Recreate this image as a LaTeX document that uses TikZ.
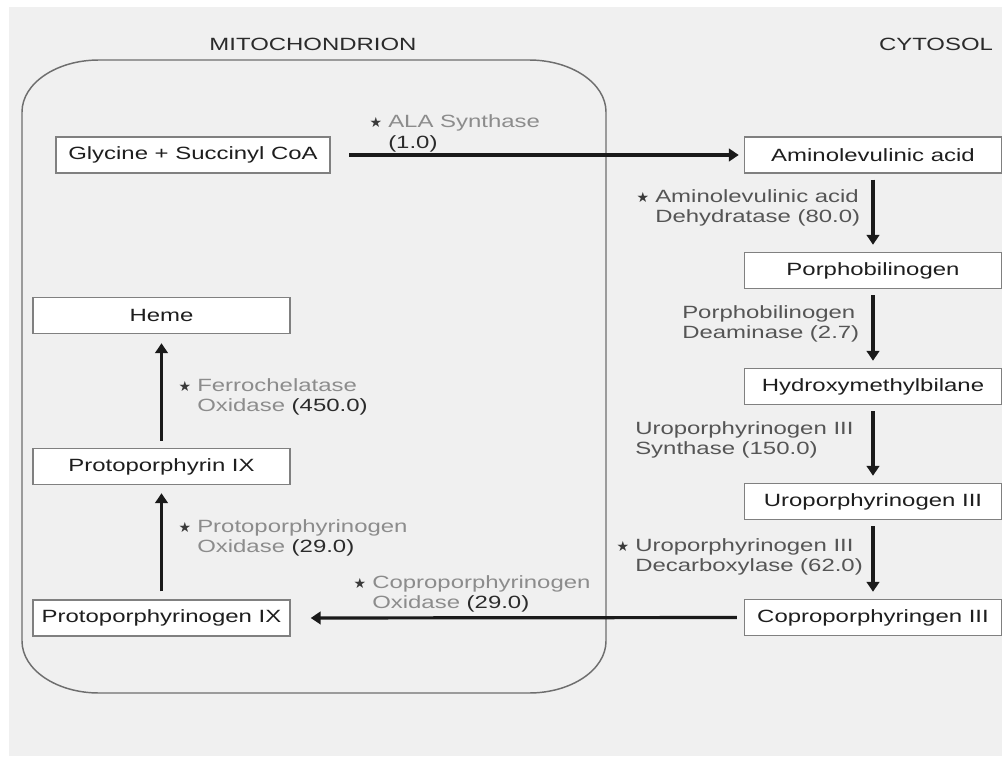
\documentclass[tikz,border=0pt]{standalone}
\usepackage{fontspec}
\setmainfont{Liberation Sans}[FakeStretch=1.35]
\newfontfamily\starfont{DejaVu Sans}
\usetikzlibrary{arrows.meta}
\definecolor{bgcol}{HTML}{F0F0F0}
\definecolor{boxline}{HTML}{808080}
\definecolor{mitoline}{HTML}{6E6E6E}
\definecolor{nodetext}{HTML}{1E1E1E}
\definecolor{lightlab}{HTML}{8C8C8C}
\definecolor{darklab}{HTML}{555555}
\definecolor{numcol}{HTML}{2B2B2B}
\definecolor{starcol}{HTML}{3A3A3A}
\definecolor{arrowcol}{HTML}{1A1A1A}
\newcommand\enzstar{\llap{{\starfont\fontsize{10.5}{10.5}\selectfont\color{starcol}★}\hspace{4.5pt}}}
\begin{document}
\begin{tikzpicture}[x=0.75pt,y=-0.75pt,font=\fontsize{13.3}{15}\selectfont,
  pbox/.style={draw=boxline,line width=1.1pt,fill=white,minimum width=192.75pt,minimum height=27pt,inner sep=0pt,text=nodetext},
  lab/.style={inner sep=0pt,align=left},
  flow/.style={line width=2.4pt,draw=arrowcol,-{Triangle[width=9.5pt,length=7.5pt]}},
  title/.style={inner sep=0pt,text=numcol}]
% canvas
\useasboundingbox (0,0) rectangle (1002,756);
\fill[white] (0,0) rectangle (1002,756);
\fill[bgcol] (9,7) rectangle (1002,756);
% mitochondrion outline
\draw[mitoline,line width=1.1pt] (22,112) .. controls (22,83.3) and (56.5,60) .. (99,60)
  -- (529,60) .. controls (571.5,60) and (606,83.3) .. (606,112)
  -- (606,641) .. controls (606,669.7) and (571.5,693) .. (529,693)
  -- (99,693) .. controls (56.5,693) and (22,669.7) .. (22,641) -- cycle;
% titles
\node[title] (tmito) at (313,44) {MITOCHONDRION};
\node[title] (tcyto) at (936,44) {CYTOSOL};
% boxes
\node[pbox,minimum width=205.5pt] (gly) at (193,155) {Glycine + Succinyl CoA};
\node[pbox] (ala) at (873,155) {Aminolevulinic acid};
\node[pbox] (pbg) at (873,270.5) {Porphobilinogen};
\node[pbox] (hmb) at (873,386.5) {Hydroxymethylbilane};
\node[pbox] (uro) at (873,501.5) {Uroporphyrinogen III};
\node[pbox] (copro) at (873,617.5) {Coproporphyringen III};
\node[pbox] (heme) at (161.5,315.5) {Heme};
\node[pbox] (ppix) at (161.5,466.5) {Protoporphyrin IX};
\node[pbox] (ppgen) at (161.5,618) {Protoporphyrinogen IX};
% arrows
\draw[flow,shorten <=14pt,shorten >=3.75pt] (gly.east) -- (ala.west);
\draw[flow,shorten <=4.5pt,shorten >=5.25pt] (ala.south) -- (pbg.north);
\draw[flow,shorten <=4.5pt,shorten >=5.25pt] (pbg.south) -- (hmb.north);
\draw[flow,shorten <=4.5pt,shorten >=5.25pt] (hmb.south) -- (uro.north);
\draw[flow,shorten <=4.5pt,shorten >=5.25pt] (uro.south) -- (copro.north);
\draw[flow,shorten <=5.25pt,shorten >=15pt] (copro.west) -- (ppgen.east);
\draw[flow,shorten <=6pt,shorten >=6pt] (ppgen.north) -- (ppix.south);
\draw[flow,shorten <=5.25pt,shorten >=6.75pt] (ppix.north) -- (heme.south);
% enzyme labels (anchored at the baseline of the last line)
\node[lab,anchor=base west] (lala) at (388,148) {\enzstar\color{lightlab}ALA Synthase\\\color{numcol}(1.0)};
\node[lab,anchor=base west] (lalad) at (655,222) {\enzstar\color{darklab}Aminolevulinic acid\\\color{darklab}Dehydratase (80.0)};
\node[lab,anchor=base west] (lpbgd) at (682,338) {\color{darklab}Porphobilinogen\\\color{darklab}Deaminase (2.7)};
\node[lab,anchor=base west] (luros) at (635,454) {\color{darklab}Uroporphyrinogen III\\\color{darklab}Synthase (150.0)};
\node[lab,anchor=base west] (lurod) at (635,571) {\enzstar\color{darklab}Uroporphyrinogen III\\\color{darklab}Decarboxylase (62.0)};
\node[lab,anchor=base west] (lcpo) at (372,608) {\enzstar\color{lightlab}Coproporphyrinogen\\\color{lightlab}Oxidase \color{numcol}(29.0)};
\node[lab,anchor=base west] (lppo) at (197,552) {\enzstar\color{lightlab}Protoporphyrinogen\\\color{lightlab}Oxidase \color{numcol}(29.0)};
\node[lab,anchor=base west] (lfc) at (197,411) {\enzstar\color{lightlab}Ferrochelatase\\\color{lightlab}Oxidase \color{numcol}(450.0)};
\end{tikzpicture}
\end{document}
